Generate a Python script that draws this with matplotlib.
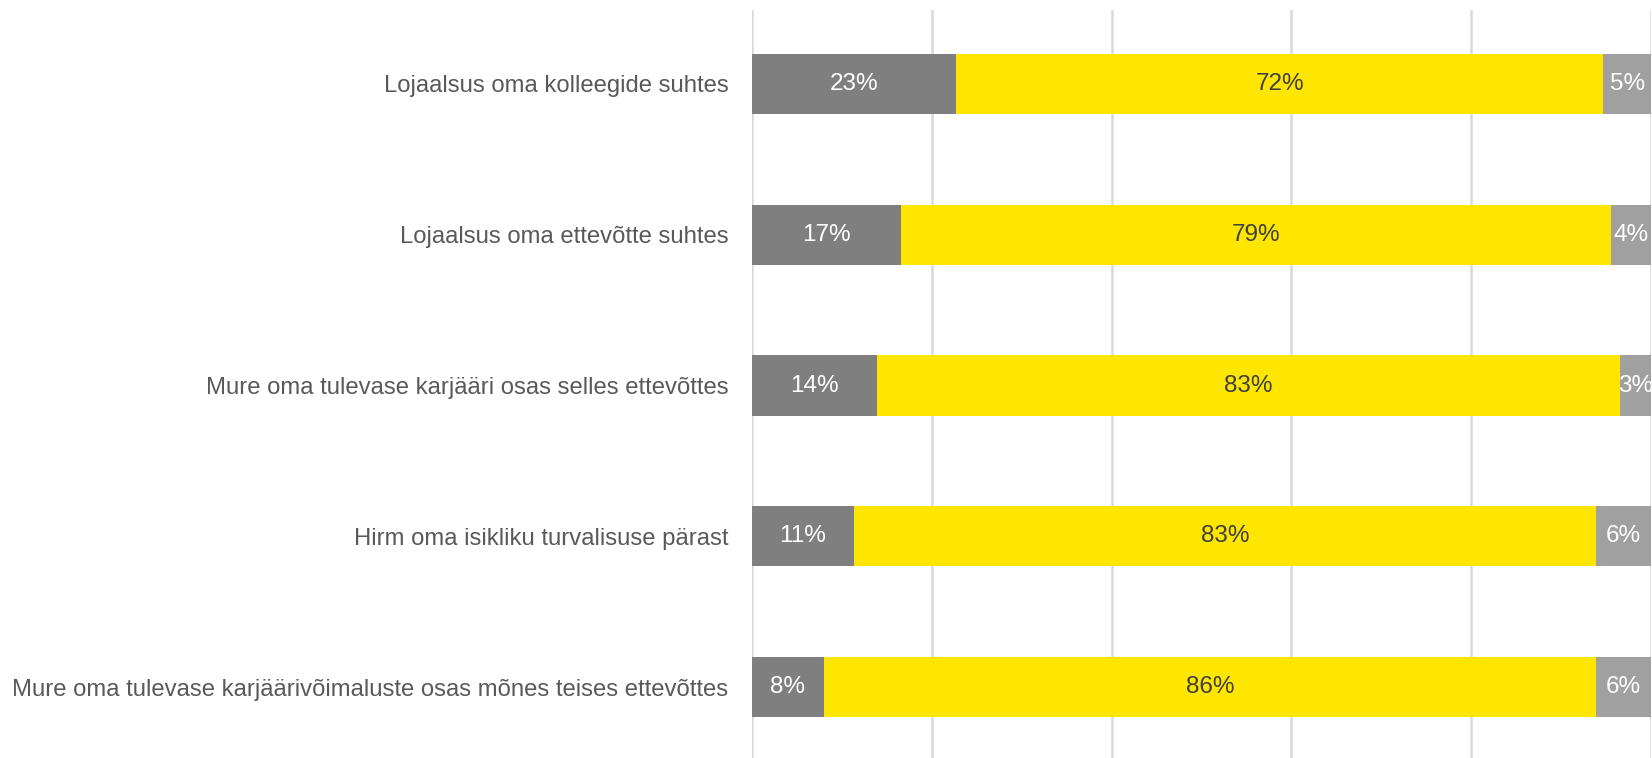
import matplotlib
matplotlib.use("Agg")
import matplotlib.pyplot as plt

plt.rcParams['font.family'] = ['Liberation Sans', 'DejaVu Sans']

categories = [
    "Lojaalsus oma kolleegide suhtes",
    "Lojaalsus oma ettevõtte suhtes",
    "Mure oma tulevase karjääri osas selles ettevõttes",
    "Hirm oma isikliku turvalisuse pärast",
    "Mure oma tulevase karjäärivõimaluste osas mõnes teises ettevõttes",
]
series1 = [22.7, 16.6, 13.9, 11.3, 8.0]
series2 = [72.0, 79.0, 82.6, 82.6, 85.9]
series3 = [5.3, 4.4, 3.5, 6.1, 6.1]
labels1 = ["23%", "17%", "14%", "11%", "8%"]
labels2 = ["72%", "79%", "83%", "83%", "86%"]
labels3 = ["5%", "4%", "3%", "6%", "6%"]

colors = ["#7F7F7F", "#FFE600", "#A0A0A0"]
text_colors = ["white", "#404040", "white"]

fig = plt.figure(figsize=(16.52, 7.58), dpi=100)
ax = fig.add_axes([752/1652, 0, (1651-752)/1652, 1 - 10/758])

y = list(range(len(categories)))
left = [0.0] * len(categories)
for vals, labs, c, tc in zip([series1, series2, series3], [labels1, labels2, labels3], colors, text_colors):
    bars = ax.barh(y, vals, left=left, height=0.4, color=c, edgecolor='none', zorder=3)
    for b, lab in zip(bars, labs):
        ax.text(b.get_x() + b.get_width() / 2, b.get_y() + b.get_height() / 2, lab,
                ha='center', va='center', color=tc, fontsize=17.5, zorder=4)
    left = [l + v for l, v in zip(left, vals)]

ax.set_xlim(0, 100)
ax.set_ylim(4.47, -0.49)
ax.set_xticks([0, 20, 40, 60, 80, 100])
ax.xaxis.grid(True, color="#D9D9D9", linewidth=1.8, zorder=0)
ax.set_yticks(y)
ax.set_yticklabels(categories, fontsize=17.2, color="#595959")
ax.tick_params(axis='y', length=0, pad=17)
ax.tick_params(axis='x', length=0, labelbottom=False)
for s in ax.spines.values():
    s.set_visible(False)

fig.savefig("out.png", dpi=100)
